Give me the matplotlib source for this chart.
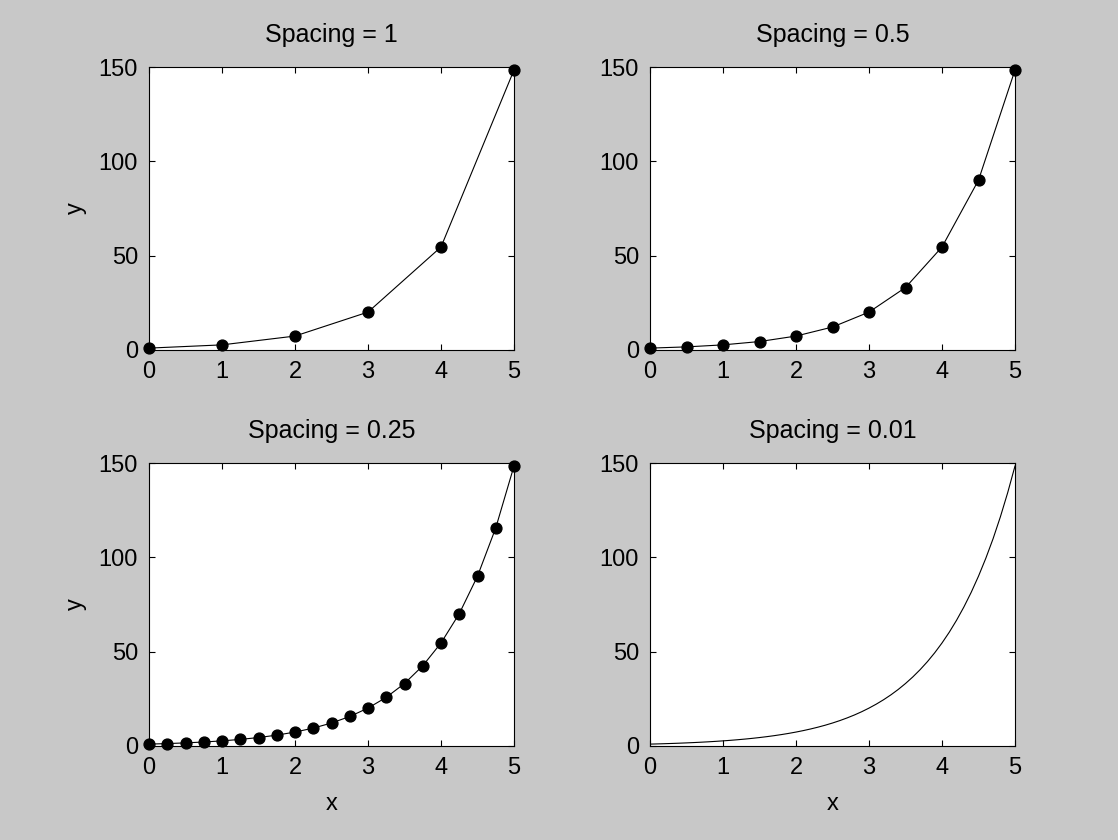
import numpy as np
import matplotlib.pyplot as plt

# y = e^x
x_1 = [0, 1, 2, 3, 4, 5]
y_1 = [1.0, 2.718, 7.389, 20.09, 54.60, 148.4]

x_05 = [0, 0.5, 1, 1.5, 2, 2.5, 3, 3.5, 4, 4.5, 5]
y_05 = [1.0, 1.649, 2.718, 4.482, 7.389, 12.18, 20.09, 33.12, 54.60, 90.02, 148.4]

x_025 = [0, 0.25, 0.5, 0.75, 1, 1.25, 1.5, 1.75, 2, 2.25, 2.5,
         2.75, 3, 3.25, 3.5, 3.75, 4, 4.25, 4.5, 4.75, 5]
y_025 = [1.0, 1.284, 1.649, 2.117, 2.718, 3.490, 4.482, 5.755, 7.389, 9.488, 12.18,
         15.64, 20.09, 25.79, 33.12, 42.52, 54.60, 70.11, 90.02, 115.6, 148.4]

x_001 = [i / 10 for i in range(51)]
y_001 = [1.000, 1.105, 1.221, 1.350, 1.492, 1.649, 1.822, 2.014, 2.226, 2.460,
         2.718, 3.004, 3.320, 3.669, 4.055, 4.482, 4.953, 5.474, 6.050, 6.686,
         7.389, 8.166, 9.025, 9.974, 11.02, 12.18, 13.46, 14.88, 16.44, 18.17,
         20.09, 22.20, 24.53, 27.11, 29.96, 33.12, 36.60, 40.45, 44.70, 49.40,
         54.60, 60.34, 66.69, 73.70, 81.45, 90.02, 99.48, 109.9, 121.5, 134.3,
         148.4]

panels = [
    ("Spacing = 1", x_1, y_1, True),
    ("Spacing = 0.5", x_05, y_05, True),
    ("Spacing = 0.25", x_025, y_025, True),
    ("Spacing = 0.01", x_001, y_001, False),
]

plt.rcParams['font.family'] = ['Liberation Sans', 'DejaVu Sans']

fig = plt.figure(figsize=(11.18, 8.4), dpi=100, facecolor='#c8c8c8')

lefts = [149 / 1118, 650 / 1118]
bottoms = [(840 - 350) / 840, (840 - 746) / 840]
w, h = 365 / 1118, 283 / 840

for i, (title, xs, ys, markers) in enumerate(panels):
    row, col = divmod(i, 2)
    ax = fig.add_axes([lefts[col], bottoms[row], w, h])
    if markers:
        ax.plot(xs, ys, '-', color='black', lw=0.8, marker='o', ms=7.8, clip_on=False)
    else:
        ax.plot(xs, ys, '-', color='black', lw=0.8)
    ax.set_xlim(0, 5)
    ax.set_ylim(0, 150)
    ax.set_xticks([0, 1, 2, 3, 4, 5])
    ax.set_yticks([0, 50, 100, 150])
    ax.tick_params(direction='in', length=4, width=0.8, top=True, right=True,
                   labelsize=17, pad=8)
    for s in ax.spines.values():
        s.set_linewidth(0.8)
    ax.set_title(title, fontsize=18, pad=18)
    if col == 0:
        ax.set_ylabel('y', fontsize=17, labelpad=8)
    if row == 1:
        ax.set_xlabel('x', fontsize=17, labelpad=10)

fig.savefig('out.png', dpi=100, facecolor=fig.get_facecolor())
